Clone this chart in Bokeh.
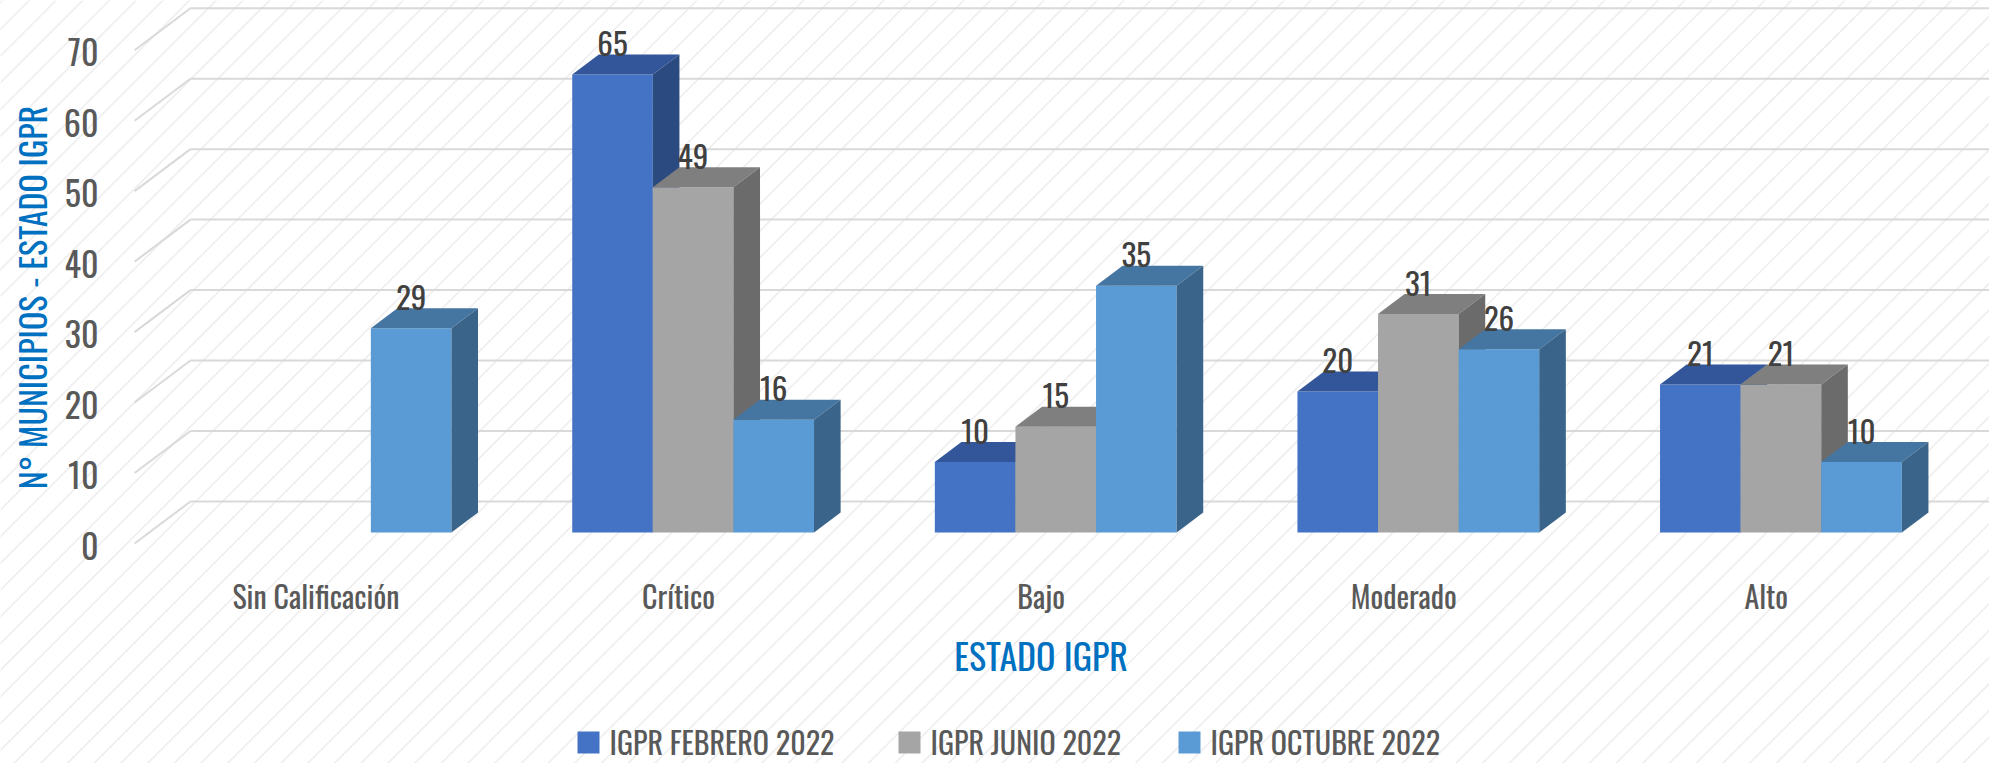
import math
import subprocess
from bokeh.plotting import figure
from bokeh.models import Range1d
from bokeh.core.properties import value
from bokeh.embed import file_html
from bokeh.resources import INLINE

# ---------------- data ----------------
CATEGORIES = ["Sin Calificación", "Crítico", "Bajo", "Moderado", "Alto"]
SERIES = ["IGPR FEBRERO 2022", "IGPR JUNIO 2022", "IGPR OCTUBRE 2022"]
FEB = [None, 65, 10, 20, 21]
JUN = [None, 49, 15, 31, 21]
OCT = [29, 16, 35, 26, 10]
Y_TICKS = [0, 10, 20, 30, 40, 50, 60, 70]
Y_TITLE = "N° MUNICIPIOS - ESTADO IGPR"
X_TITLE = "ESTADO IGPR"

# ---------------- styles ----------------
FRONT = ["#4472C4", "#A5A5A5", "#5B9BD5"]
TOP = ["#33569A", "#7F7F7F", "#4576A2"]
SIDE = ["#2B4A7F", "#6B6B6B", "#3A6489"]


def pick_font():
    prefs = ["Oswald", "Roboto Condensed", "Liberation Sans Narrow",
             "DejaVu Sans Condensed", "Roboto"]
    try:
        out = subprocess.run(["fc-list", ":", "family"], capture_output=True,
                             text=True, timeout=10).stdout
        fams = set()
        for line in out.splitlines():
            for f in line.split(","):
                fams.add(f.strip())
        for pf in prefs:
            if pf in fams:
                return pf
    except Exception:
        pass
    return "Roboto"


FONT = pick_font()

# geometry (pixels of the picture)
W, H = 1989, 763
PX_C = 362.6      # px per category
PX_V = 7.047      # px per value unit
X_ORIGIN = 315.4  # screen x of category 0 at the front floor edge
Y_ORIGIN = 543.0  # screen y of value 0 at the front floor edge
DEPTH_RATIO = 1.33
FLOOR_DEPTH = 42.0
BAR_Z0, BAR_Z1 = 11.0, 31.0
BAR_W = 80.6 / PX_C
PLOT_LEFT = -0.5
LABEL_LIFT = 11   # px between back top edge and label baseline

# legend layout (screen px)
LEG_SQ_X = [577, 898, 1178]
LEG_SQ = 22
LEG_Y = 742
LEG_STANDOFF = 10


def cx(px):
    return (px - X_ORIGIN) / PX_C


def vy(py):
    return (Y_ORIGIN - py) / PX_V


def depth(z):
    return z * DEPTH_RATIO / PX_C, z / PX_V


p = figure(width=W, height=H, output_backend="svg", toolbar_location=None,
           x_range=Range1d(cx(0), cx(W)),
           y_range=Range1d(vy(H), vy(0)),
           x_axis_location=None, y_axis_location=None, min_border=0)
p.outline_line_color = None
p.background_fill_color = "white"
p.border_fill_color = "white"
p.xgrid.visible = False
p.ygrid.visible = False

# background diagonal hatch
step = 26.7
hx0, hy0, hx1, hy1 = [], [], [], []
x0 = -H - step
while x0 < W + step:
    hx0.append(cx(x0)); hy0.append(vy(H + 2))
    hx1.append(cx(x0 + H + 4)); hy1.append(vy(-2))
    x0 += step
p.segment(hx0, hy0, hx1, hy1, line_color="#eeeeee", line_width=1.6)

# gridlines (left wall + back wall)
fdx, fdy = depth(FLOOR_DEPTH)
sx0, sy0, sx1, sy1 = [], [], [], []
bx0, by0, bx1, by1 = [], [], [], []
for t in Y_TICKS:
    sx0.append(PLOT_LEFT); sy0.append(t)
    sx1.append(PLOT_LEFT + fdx); sy1.append(t + fdy)
    bx0.append(PLOT_LEFT + fdx); by0.append(t + fdy)
    bx1.append(len(CATEGORIES) + 0.5); by1.append(t + fdy)
p.segment(sx0, sy0, sx1, sy1, line_color="#d9d9d9", line_width=2)
p.segment(bx0, by0, bx1, by1, line_color="#d9d9d9", line_width=2)

# tick labels
p.text(x=[cx(98)] * len(Y_TICKS), y=[t - 2 / PX_V for t in Y_TICKS],
       text=[str(t) for t in Y_TICKS], text_align="right",
       text_baseline="middle", text_font=value(FONT),
       text_font_size="34px", text_color="#595959")

# bars
z0x, z0y = depth(BAR_Z0)
ddx, ddy = depth(BAR_Z1 - BAR_Z0)
lab_x, lab_y, lab_t = [], [], []
for i, vals in enumerate([FEB, JUN, OCT]):
    L, R, B, T = [], [], [], []
    tops_x, tops_y, side_x, side_y = [], [], [], []
    for k, v in enumerate(vals):
        if v is None:
            continue
        left = k + (i - 1.5) * BAR_W + z0x
        right = left + BAR_W
        bottom = z0y
        top = v + z0y
        L.append(left); R.append(right); B.append(bottom); T.append(top)
        tops_x.append([left, right, right + ddx, left + ddx])
        tops_y.append([top, top, top + ddy, top + ddy])
        side_x.append([right, right + ddx, right + ddx, right])
        side_y.append([bottom, bottom + ddy, top + ddy, top])
        lab_x.append((left + right) / 2)
        lab_y.append(top + ddy + LABEL_LIFT / PX_V)
        lab_t.append(str(v))
    p.quad(left=L, right=R, bottom=B, top=T, fill_color=FRONT[i],
           line_color=None)
    p.patches(tops_x, tops_y, fill_color=TOP[i], line_color=None)
    p.patches(side_x, side_y, fill_color=SIDE[i], line_color=None)

p.text(x=lab_x, y=lab_y, text=lab_t, text_align="center",
       text_baseline="alphabetic", text_font=value(FONT),
       text_font_size="31px", text_color="#404040")

# category labels
p.text(x=list(range(len(CATEGORIES))), y=[vy(595)] * len(CATEGORIES),
       text=CATEGORIES, text_align="center", text_baseline="middle",
       text_font=value(FONT), text_font_size="30px", text_color="#595959")

# axis titles
p.text(x=[(len(CATEGORIES) - 1) / 2], y=[vy(654)], text=[X_TITLE],
       text_align="center", text_baseline="middle", text_font=value(FONT),
       text_font_size="36px", text_color="#0070C0")
p.text(x=[cx(31)], y=[vy(297)], text=[Y_TITLE], angle=math.pi / 2,
       text_align="center", text_baseline="middle", text_font=value(FONT),
       text_font_size="34px", text_color="#0070C0")

# legend (square + label per series)
half = LEG_SQ / 2
p.quad(left=[cx(x) for x in LEG_SQ_X],
       right=[cx(x + LEG_SQ) for x in LEG_SQ_X],
       bottom=[vy(LEG_Y + half)] * 3, top=[vy(LEG_Y - half)] * 3,
       fill_color=FRONT, line_color=None)
p.text(x=[cx(x + LEG_SQ + LEG_STANDOFF) for x in LEG_SQ_X],
       y=[vy(LEG_Y - 1)] * 3, text=SERIES, text_align="left",
       text_baseline="middle", text_font=value(FONT),
       text_font_size="30px", text_color="#595959")

open("out.html", "w").write(file_html(p, INLINE))
